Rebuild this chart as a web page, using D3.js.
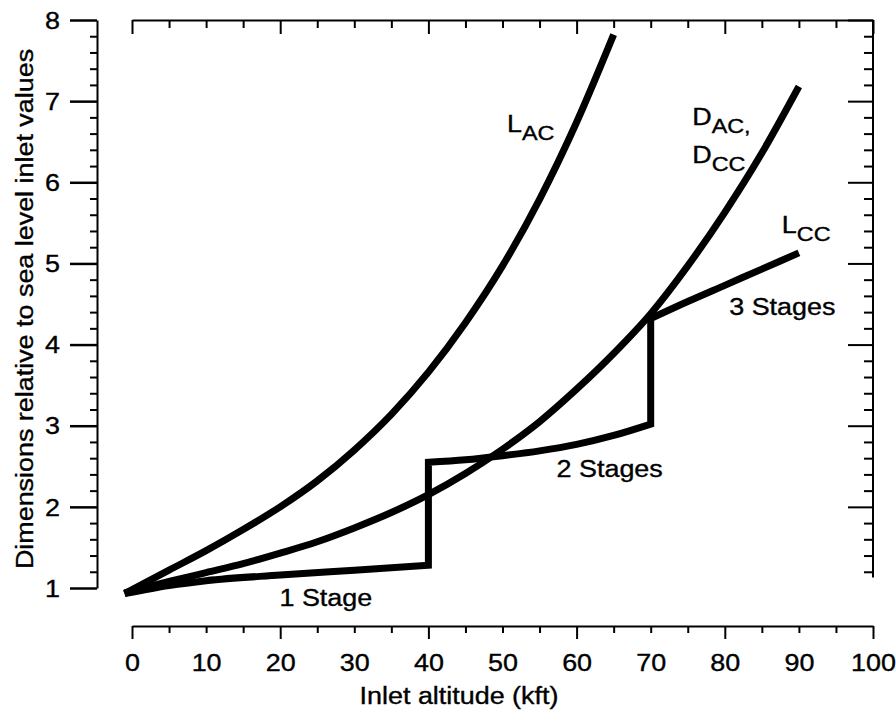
<!DOCTYPE html>
<html>
<head>
<meta charset="utf-8">
<script src="https://cdn.jsdelivr.net/npm/d3@7"></script>
<style>
  body { margin: 0; background: #fff; }
  text { font-family: "Liberation Sans", Arial, sans-serif; fill: #000; stroke: #000; stroke-width: 0.35px; }
  .axis path, .axis line { stroke: #000; stroke-width: 2; }
  .axis text { font-size: 23px; }
  .curve { fill: none; stroke: #000; stroke-width: 7; stroke-linejoin: miter; stroke-linecap: butt; }
</style>
</head>
<body>
<svg id="chart" width="896" height="713"></svg>
<script>
// L_AC : length of axial compressor
var acAltitude = [-1, 5, 10, 15, 20, 25, 30, 35, 40, 45, 50, 55, 60, 65];
var acLength   = [0.93, 1.22, 1.46, 1.72, 2.0, 2.32, 2.7, 3.14, 3.66, 4.27, 4.97, 5.79, 6.74, 7.82];

// D_AC, D_CC : diameters
var dAltitude = [-1, 5, 10, 15, 20, 25, 30, 35, 40, 45, 50, 55, 60, 65, 70, 75, 80, 85, 90];
var diameter  = [0.94, 1.08, 1.19, 1.3, 1.43, 1.57, 1.74, 1.93, 2.15, 2.41, 2.71, 3.05, 3.45, 3.89, 4.38, 4.97, 5.63, 6.36, 7.18];

// L_CC : length of centrifugal compressor, one curve per number of stages
var stage1Altitude = [-1, 5, 10, 20, 30, 40];
var stage1Length   = [0.93, 1.03, 1.09, 1.16, 1.22, 1.28];
var stage2Altitude = [40, 45, 50, 55, 60, 65, 70];
var stage2Length   = [2.55, 2.58, 2.63, 2.69, 2.77, 2.88, 3.02];
var stage3Altitude = [70, 75, 80, 85, 90];
var stage3Length   = [4.32, 4.53, 4.73, 4.93, 5.13];

var xTicks = [0, 10, 20, 30, 40, 50, 60, 70, 80, 90, 100];
var xLongTicks = [0, 20, 40, 60, 80, 100];
var yTicks = [1, 2, 3, 4, 5, 6, 7, 8];
var rightAxisEnd = 1.13;

// curve labels: text, subscript, altitude, value
var noteText = ["L", "D", "D", "L", "3 Stages", "2 Stages", "1 Stage"];
var noteSub  = ["AC", "AC,", "CC", "CC", "", "", ""];
var noteAlt  = [50.6, 75.6, 75.6, 87.7, 80.6, 57.3, 19.9];
var noteVal  = [6.62, 6.71, 6.24, 5.38, 4.37, 2.37, 0.78];

var stretch = "scale(1.17,1)";

var svg = d3.select("#chart");

var x = d3.scaleLinear().domain([0, 100]).range([132, 873]),
    y = d3.scaleLinear().domain([1, 8]).range([588, 20]);

var leftX = 97, bottomY = 626;

var minorY = d3.range(12, 80, 2).map(function(d) { return d / 10; })
  .filter(function(d) { return d % 1 !== 0; });
var minorX = d3.range(0, 101, 5).filter(function(d) { return d % 20 !== 0; });

// left axis
svg.append("g").attr("class", "axis")
    .attr("transform", "translate(" + leftX + ",0)")
    .call(d3.axisLeft(y).tickValues(minorY).tickSize(7).tickFormat(""))
    .select(".domain").remove();

var leftAxis = svg.append("g").attr("class", "axis")
    .attr("transform", "translate(" + leftX + ",0)")
    .call(d3.axisLeft(y).tickValues(yTicks).tickSize(27).tickSizeOuter(0).tickFormat(d3.format("d")));
leftAxis.selectAll("line").style("stroke-width", 2.5);
leftAxis.selectAll("text")
    .attr("x", 0).attr("dy", "0.36em")
    .attr("transform", "translate(-37,0) " + stretch);

// right axis
var rightAxis = svg.append("g").attr("class", "axis")
    .attr("transform", "translate(" + x(100) + ",0)");
rightAxis.append("g")
    .call(d3.axisLeft(y).tickValues(minorY.filter(function(d) { return d >= 1.2; })).tickSize(9).tickFormat(""))
    .select(".domain").remove();
rightAxis.append("g")
    .call(d3.axisLeft(y).tickValues(yTicks.slice(1)).tickSize(25).tickFormat(""))
    .select(".domain").remove();
rightAxis.append("line")
    .attr("y1", y(8)).attr("y2", y(rightAxisEnd));

// top axis
var topAxis = svg.append("g").attr("class", "axis")
    .attr("transform", "translate(0," + y(8) + ")");
topAxis.append("g")
    .call(d3.axisBottom(x).tickValues(minorX).tickSize(8).tickFormat(""))
    .select(".domain").remove();
topAxis.append("g")
    .call(d3.axisBottom(x).tickValues(xLongTicks).tickSize(14).tickSizeOuter(0).tickFormat(""));

// bottom axis
var bottomAxis = svg.append("g").attr("class", "axis")
    .attr("transform", "translate(0," + bottomY + ")");
bottomAxis.append("g")
    .call(d3.axisBottom(x).tickValues(minorX).tickSize(7).tickFormat(""))
    .select(".domain").remove();
bottomAxis.append("g")
    .call(d3.axisBottom(x).tickValues(xLongTicks).tickSize(13).tickSizeOuter(0).tickFormat(""));
var xLabels = bottomAxis.append("g")
    .call(d3.axisBottom(x).tickValues(xTicks).tickSize(0).tickFormat(d3.format("d")));
xLabels.select(".domain").remove();
xLabels.selectAll("text")
    .attr("y", 45).attr("dy", 0)
    .attr("transform", stretch);

// axis titles
svg.append("text")
    .attr("transform", "translate(459,704) " + stretch)
    .attr("text-anchor", "middle")
    .style("font-size", "23px")
    .text("Inlet altitude (kft)");

svg.append("text")
    .attr("transform", "translate(33,309) rotate(-90) " + stretch)
    .attr("text-anchor", "middle")
    .style("font-size", "23px")
    .text("Dimensions relative to sea level inlet values");

// curves
var line = d3.line()
    .x(function(d) { return x(d[0]); })
    .y(function(d) { return y(d[1]); })
    .curve(d3.curveMonotoneX);

function pairs(a, b) { return a.map(function(d, i) { return [d, b[i]]; }); }

svg.append("path").attr("class", "curve")
    .attr("d", line(pairs(acAltitude, acLength)));

svg.append("path").attr("class", "curve")
    .attr("d", line(pairs(dAltitude, diameter)));

// stages joined by vertical jumps
var lcc = line(pairs(stage1Altitude, stage1Length)) +
          line(pairs(stage2Altitude, stage2Length)).replace(/^M/, "L") +
          line(pairs(stage3Altitude, stage3Length)).replace(/^M/, "L");
svg.append("path").attr("class", "curve").attr("d", lcc);

// curve labels
noteText.forEach(function(t, i) {
  var txt = svg.append("text")
      .attr("transform", "translate(" + x(noteAlt[i]) + "," + y(noteVal[i]) + ") " + stretch)
      .style("font-size", "23px");
  txt.append("tspan").text(t);
  if (noteSub[i]) {
    txt.append("tspan")
        .attr("dy", 8)
        .style("font-size", "20px")
        .text(noteSub[i]);
  }
});
</script>
</body>
</html>
